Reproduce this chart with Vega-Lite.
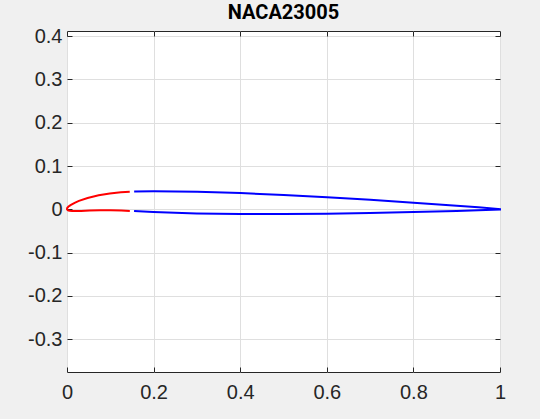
{
  "$schema": "https://vega.github.io/schema/vega-lite/v6.json",
  "width": 433,
  "height": 341,
  "autosize": {"type": "none"},
  "padding": {"left": 67, "top": 31, "right": 40, "bottom": 47},
  "background": "#f0f0f0",
  "config": {
    "view": {"fill": "#ffffff", "stroke": "#262626", "strokeWidth": 1},
    "font": "Liberation Sans",
    "axis": {
      "domain": false,
      "tickColor": "#262626",
      "tickSize": -5,
      "tickWidth": 1,
      "gridColor": "#dfdfdf",
      "gridWidth": 1,
      "labelFont": "Liberation Sans",
      "labelFontSize": 20,
      "labelColor": "#262626",
      "labelFlush": false,
      "labelOverlap": false,
      "title": null
    }
  },
  "title": {
    "text": "NACA23005",
    "font": "Roboto",
    "fontSize": 20,
    "fontWeight": "bold",
    "color": "#000000",
    "anchor": "middle",
    "offset": 3
  },
  "data": {
    "values": [
      {"part": "le", "ord": 1, "x": 0.144905, "y": 0.04043},
      {"part": "le", "ord": 2, "x": 0.124457, "y": 0.039142},
      {"part": "le", "ord": 3, "x": 0.098798, "y": 0.036487},
      {"part": "le", "ord": 4, "x": 0.073127, "y": 0.032315},
      {"part": "le", "ord": 5, "x": 0.047611, "y": 0.026165},
      {"part": "le", "ord": 6, "x": 0.027509, "y": 0.019339},
      {"part": "le", "ord": 7, "x": 0.017673, "y": 0.01503},
      {"part": "le", "ord": 8, "x": 0.008127, "y": 0.009739},
      {"part": "le", "ord": 9, "x": 0.003586, "y": 0.006374},
      {"part": "le", "ord": 10, "x": 0.001466, "y": 0.004235},
      {"part": "le", "ord": 11, "x": 0.000327, "y": 0.002519},
      {"part": "le", "ord": 12, "x": 0.0, "y": 0.0},
      {"part": "le", "ord": 13, "x": 0.001673, "y": -0.001913},
      {"part": "le", "ord": 14, "x": 0.003534, "y": -0.002729},
      {"part": "le", "ord": 15, "x": 0.006414, "y": -0.003404},
      {"part": "le", "ord": 16, "x": 0.011873, "y": -0.003955},
      {"part": "le", "ord": 17, "x": 0.022327, "y": -0.004076},
      {"part": "le", "ord": 18, "x": 0.032491, "y": -0.003799},
      {"part": "le", "ord": 19, "x": 0.052389, "y": -0.003069},
      {"part": "le", "ord": 20, "x": 0.076873, "y": -0.002485},
      {"part": "le", "ord": 21, "x": 0.101202, "y": -0.002463},
      {"part": "le", "ord": 22, "x": 0.125543, "y": -0.002972},
      {"part": "le", "ord": 23, "x": 0.145095, "y": -0.003678},
      {"part": "main", "ord": 1, "x": 0.155092, "y": 0.040852},
      {"part": "main", "ord": 2, "x": 0.200527, "y": 0.041567},
      {"part": "main", "ord": 3, "x": 0.250547, "y": 0.041312},
      {"part": "main", "ord": 4, "x": 0.300552, "y": 0.04046},
      {"part": "main", "ord": 5, "x": 0.400534, "y": 0.037423},
      {"part": "main", "ord": 6, "x": 0.500487, "y": 0.033096},
      {"part": "main", "ord": 7, "x": 0.60042, "y": 0.027843},
      {"part": "main", "ord": 8, "x": 0.700337, "y": 0.021887},
      {"part": "main", "ord": 9, "x": 0.800241, "y": 0.015344},
      {"part": "main", "ord": 10, "x": 0.900133, "y": 0.008239},
      {"part": "main", "ord": 11, "x": 0.950074, "y": 0.004464},
      {"part": "main", "ord": 12, "x": 1.0, "y": 0.000525},
      {"part": "main", "ord": 13, "x": 1.0, "y": -0.000525},
      {"part": "main", "ord": 14, "x": 0.949926, "y": -0.002256},
      {"part": "main", "ord": 15, "x": 0.899867, "y": -0.003823},
      {"part": "main", "ord": 16, "x": 0.799759, "y": -0.00651},
      {"part": "main", "ord": 17, "x": 0.699663, "y": -0.008637},
      {"part": "main", "ord": 18, "x": 0.59958, "y": -0.010175},
      {"part": "main", "ord": 19, "x": 0.499513, "y": -0.011012},
      {"part": "main", "ord": 20, "x": 0.399466, "y": -0.010923},
      {"part": "main", "ord": 21, "x": 0.299448, "y": -0.009542},
      {"part": "main", "ord": 22, "x": 0.249453, "y": -0.008186},
      {"part": "main", "ord": 23, "x": 0.199473, "y": -0.006233},
      {"part": "main", "ord": 24, "x": 0.154908, "y": -0.0041}
    ]
  },
  "layer": [
    {
      "mark": {"type": "line", "strokeWidth": 2, "interpolate": "linear"},
      "encoding": {
        "x": {
          "field": "x",
          "type": "quantitative",
          "scale": {"domain": [0, 1], "nice": false, "zero": false},
          "axis": {
            "orient": "bottom",
            "values": [0, 0.2, 0.4, 0.6, 0.8, 1],
            "labelExpr": "'' + datum.value",
            "grid": true,
            "labelPadding": 15.5
          }
        },
        "y": {
          "field": "y",
          "type": "quantitative",
          "scale": {"domain": [-0.376, 0.412], "nice": false, "zero": false},
          "axis": {
            "orient": "left",
            "values": [-0.3, -0.2, -0.1, 0, 0.1, 0.2, 0.3, 0.4],
            "labelExpr": "'' + datum.value",
            "grid": true,
            "labelPadding": 10
          }
        },
        "color": {
          "field": "part",
          "type": "nominal",
          "scale": {"domain": ["le", "main"], "range": ["#ff0000", "#0000ff"]},
          "legend": null
        },
        "order": {"field": "ord", "type": "quantitative"}
      }
    },
    {
      "mark": {"type": "line", "opacity": 0},
      "encoding": {
        "x": {
          "field": "x",
          "type": "quantitative",
          "axis": {
            "orient": "top",
            "values": [0, 0.2, 0.4, 0.6, 0.8, 1],
            "labels": false,
            "grid": false
          }
        },
        "y": {
          "field": "y",
          "type": "quantitative",
          "axis": {
            "orient": "right",
            "values": [-0.3, -0.2, -0.1, 0, 0.1, 0.2, 0.3, 0.4],
            "labels": false,
            "grid": false
          }
        },
        "detail": {"field": "part", "type": "nominal"},
        "order": {"field": "ord", "type": "quantitative"}
      }
    }
  ],
  "resolve": {"axis": {"x": "independent", "y": "independent"}}
}
